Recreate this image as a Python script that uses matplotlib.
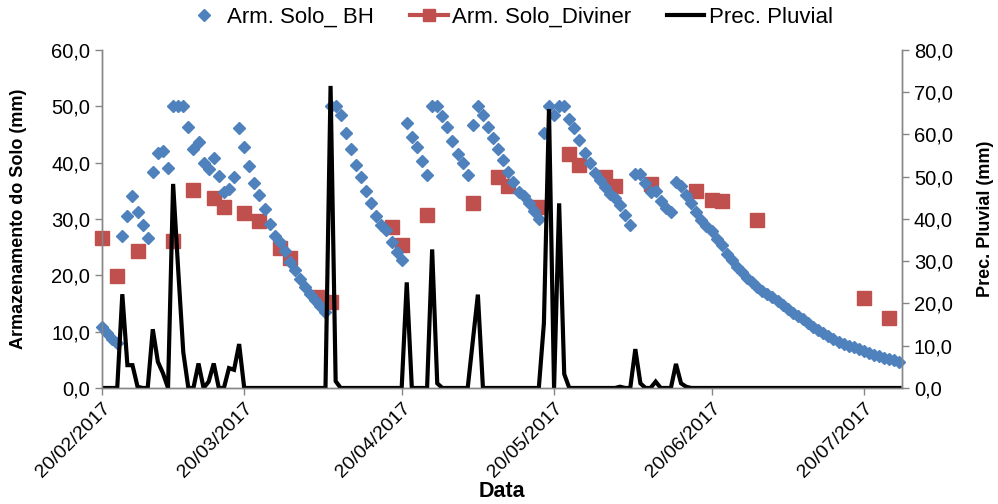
import numpy as np
import pandas as pd
import matplotlib
matplotlib.use("Agg")
import matplotlib.pyplot as plt
import matplotlib.dates as mdates
from matplotlib.lines import Line2D
from matplotlib.ticker import FuncFormatter, MultipleLocator

plt.rcParams['font.family'] = ['Liberation Sans', 'DejaVu Sans']

# --- data (daily series start 20/02/2017) ---
start = "2017-02-20"
arm_bh = [10.8, 9.7, 8.7, 7.9, 27.0, 30.5, 34.0, 31.3, 28.9, 26.7,
          38.4, 41.8, 42.1, 39.1, 50.1, 50.1, 50.1, 46.3, 42.5, 43.7,
          40.0, 38.8, 40.9, 37.7, 34.8, 35.4, 37.5, 46.1, 42.7, 39.4,
          36.3, 34.3, 31.7, 29.1, 26.9, 26.0, 24.4, 22.4, 20.9, 19.3,
          18.0, 16.7, 15.6, 14.6, 13.5, 50.1, 50.1, 48.5, 45.3, 42.4,
          39.6, 37.4, 35.0, 32.8, 30.6, 28.9, 28.0, 26.0, 24.2, 22.7,
          47.1, 44.6, 42.8, 40.3, 37.8, 50.1, 50.0, 48.3, 46.4, 43.9,
          41.6, 39.9, 37.8, 46.7, 50.1, 48.5, 46.3, 44.3, 42.4, 40.4,
          38.4, 36.6, 34.8, 34.0, 32.8, 31.5, 30.0, 45.3, 50.1, 48.5,
          50.1, 50.1, 47.7, 46.1, 44.1, 41.8, 39.9, 38.2, 36.9, 35.7,
          34.4, 33.8, 32.5, 30.7, 28.9, 38.0, 37.9, 36.4, 34.8, 34.9,
          33.2, 32.0, 31.3, 36.6, 35.9, 34.3, 32.8, 31.3, 29.9, 28.8,
          27.8, 26.5, 25.3, 23.8, 22.7, 21.5, 20.6, 19.6, 18.8, 18.0,
          17.2, 16.6, 16.1, 15.4, 14.7, 14.0, 13.3, 12.7, 12.2, 11.5,
          10.9, 10.3, 9.8, 9.2, 8.7, 8.2, 7.8, 7.5, 7.3, 6.9,
          6.5, 6.2, 5.9, 5.6, 5.3, 5.1, 4.9, 4.7]

prec = [0, 0, 0, 0, 22.2, 5.4, 5.4, 0.3, 0, 0,
        13.9, 6.2, 3.5, 0, 48.3, 28.0, 8.5, 0, 0, 5.8,
        0, 1.5, 5.8, 0, 0, 4.7, 4.3, 10.4, 0, 0,
        0, 0, 0, 0, 0, 0, 0, 0, 0, 0,
        0, 0, 0, 0, 0, 71.5, 1.6, 0, 0, 0,
        0, 0, 0, 0, 0, 0, 0, 0, 0, 0,
        25.0, 0, 0, 0, 0, 32.8, 1.1, 0, 0, 0,
        0, 0, 0, 11.0, 22.1, 0, 0, 0, 0, 0,
        0, 0, 0, 0, 0, 0, 0, 15.3, 66.0, 0,
        43.7, 3.3, 0, 0, 0, 0, 0, 0, 0, 0,
        0, 0, 0.3, 0, 0, 9.2, 1.1, 0, 0, 1.5,
        0, 0, 0, 5.7, 1.1, 0.3, 0, 0, 0, 0,
        0, 0, 0, 0, 0, 0, 0, 0, 0, 0,
        0, 0, 0, 0, 0, 0, 0, 0, 0, 0,
        0, 0, 0, 0, 0, 0, 0, 0, 0, 0,
        0, 0, 0, 0, 0, 0, 0, 0]

div_dates = ["2017-02-20", "2017-02-23", "2017-02-27", "2017-03-06", "2017-03-10",
             "2017-03-14", "2017-03-16", "2017-03-20", "2017-03-23", "2017-03-27",
             "2017-03-29", "2017-04-04", "2017-04-06", "2017-04-18", "2017-04-20",
             "2017-04-25", "2017-05-04", "2017-05-09", "2017-05-11", "2017-05-17",
             "2017-05-23", "2017-05-25", "2017-05-30", "2017-06-01", "2017-06-08",
             "2017-06-17", "2017-06-20", "2017-06-22", "2017-06-29", "2017-07-20",
             "2017-07-25"]
arm_div = [26.6, 19.8, 24.4, 26.1, 35.2,
           33.7, 32.1, 31.1, 29.6, 24.8,
           23.0, 16.2, 15.2, 28.6, 25.4,
           30.7, 32.9, 37.5, 35.9, 32.2,
           41.5, 39.5, 37.5, 35.9, 36.2,
           34.9, 33.4, 33.2, 29.8, 16.0,
           12.4]

days = pd.date_range(start, periods=len(arm_bh), freq="D")
div_x = pd.to_datetime(div_dates)

blue = "#4F81BD"
red = "#C0504D"
grey = "#868686"

fig = plt.figure(figsize=(9.98, 5.04), dpi=100)
ax = fig.add_axes([0.1022, 0.2302, 0.8016, 0.6706])
ax2 = ax.twinx()

ax.plot(div_x, arm_div, ls="none", marker="s", ms=9.5, color=red, zorder=2, clip_on=False)
ax.plot(days, arm_bh, ls="none", marker="D", ms=6, color=blue, zorder=3, clip_on=False)
ax2.plot(days, prec, color="black", lw=3, solid_joinstyle="miter")

ax.set_xlim(pd.Timestamp("2017-02-20"), pd.Timestamp("2017-07-27 12:00"))
ax.set_ylim(0, 60)
ax2.set_ylim(0, 80)
ax.yaxis.set_major_locator(MultipleLocator(10))
ax2.yaxis.set_major_locator(MultipleLocator(10))
fmt = FuncFormatter(lambda v, p: f"{v:.1f}".replace(".", ","))
ax.yaxis.set_major_formatter(fmt)
ax2.yaxis.set_major_formatter(fmt)

ax.xaxis.set_major_locator(mdates.MonthLocator(bymonthday=20))
ax.xaxis.set_major_formatter(mdates.DateFormatter("%d/%m/%Y"))
for lab in ax.get_xticklabels():
    lab.set_rotation(45)
    lab.set_ha("right")
    lab.set_va("top")
    lab.set_rotation_mode("anchor")

for a in (ax, ax2):
    a.spines["top"].set_visible(False)
    for s in ("left", "right", "bottom"):
        a.spines[s].set_color(grey)
        a.spines[s].set_linewidth(1)
    a.tick_params(colors=grey, labelcolor="black", labelsize=14.5, length=5, width=1)
ax.tick_params(axis="x", labelsize=14)

ax.set_ylabel("Armazenamento do Solo (mm)", fontsize=13, fontweight="bold")
ax2.set_ylabel("Prec. Pluvial (mm)", fontsize=13, fontweight="bold")
ax.yaxis.set_label_coords(-0.094, 0.5)
ax2.yaxis.set_label_coords(1.094, 0.5)
ax.set_xlabel("Data", fontsize=15.5, fontweight="bold", labelpad=0)

handles = [Line2D([], [], ls="none", marker="D", ms=6, color=blue),
           Line2D([], [], color=red, lw=3, marker="s", ms=9),
           Line2D([], [], color="black", lw=3)]
fig.legend(handles, ["Arm. Solo_ BH", "Arm. Solo_Diviner", "Prec. Pluvial"],
           loc="center", bbox_to_anchor=(0.51, 0.965), ncol=3, frameon=False,
           fontsize=16, handlelength=1.7, handletextpad=0.2, columnspacing=1.6)

fig.savefig("out.png", dpi=100)
